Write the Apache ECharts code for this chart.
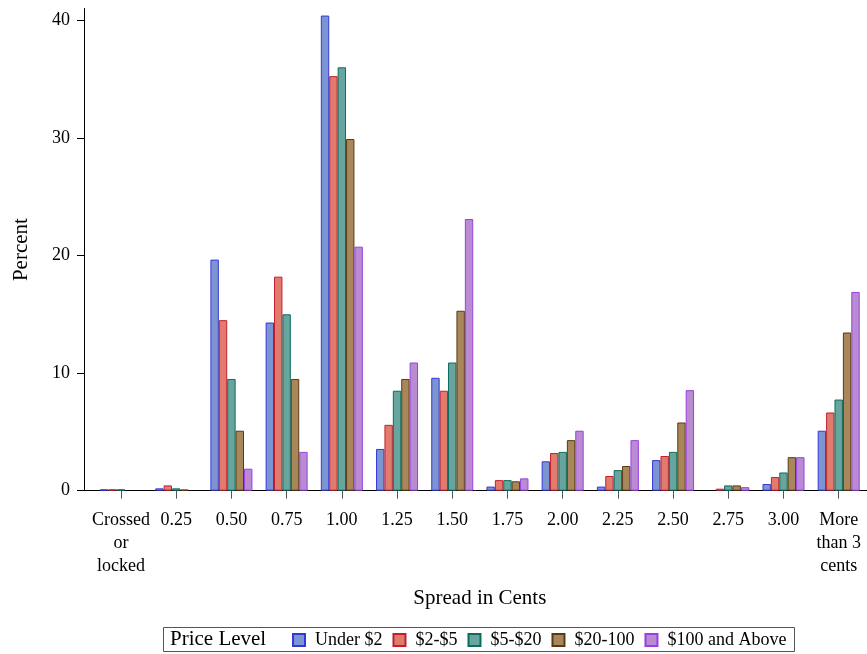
<!DOCTYPE html>
<html>
<head>
<meta charset="utf-8">
<script src="https://cdn.jsdelivr.net/npm/echarts@6/dist/echarts.min.js"></script>
<style>
  html, body { margin: 0; padding: 0; background: #fff; }
  #chart { width: 867px; height: 654px; }
</style>
</head>
<body>
<div id="chart"></div>
<script>
const categories = ['Crossed\nor\nlocked', '0.25', '0.50', '0.75', '1.00', '1.25', '1.50', '1.75', '2.00', '2.25', '2.50', '2.75', '3.00', 'More\nthan 3\ncents'];
const seriesNames = ['Under $2', '$2-$5', '$5-$20', '$20-100', '$100 and Above'];
const under2   = [0.12, 0.2, 19.65, 14.3, 40.4, 3.55, 9.6, 0.35, 2.5, 0.35, 2.6, 0, 0.57, 5.1];
const from2to5 = [0.12, 0.45, 14.5, 18.2, 35.25, 5.6, 8.5, 0.9, 3.2, 1.25, 2.95, 0.17, 1.16, 6.65];
const from5to20 = [0.12, 0.2, 9.5, 15.0, 36.0, 8.5, 10.9, 0.9, 3.3, 1.75, 3.3, 0.45, 1.55, 7.75];
const from20to100 = [0, 0.1, 5.1, 9.5, 29.9, 9.5, 15.3, 0.8, 4.3, 2.1, 5.8, 0.45, 2.85, 13.45];
const above100 = [0, 0, 1.87, 3.3, 20.75, 10.9, 23.1, 1.05, 5.1, 4.3, 8.55, 0.3, 2.85, 16.9];
const yTicks = [0, 10, 20, 30, 40];

const seriesData = [under2, from2to5, from5to20, from20to100, above100];
const fills = ['#7b94d2', '#e07b6e', '#67a69e', '#a8875b', '#b88bd3'];
const borders = ['#3636d9', '#c0202c', '#0e6b5e', '#5a3a12', '#9b3fe0'];
const serif = 'Liberation Serif, Times New Roman, serif';

const chart = echarts.init(document.getElementById('chart'));
const gridTop = 8.5, gridBottom = 163.3;

chart.setOption({
  animation: false,
  backgroundColor: '#fff',
  grid: [
    { left: 84, right: 0, top: gridTop, bottom: gridBottom },
    { left: 93.4, right: 0.7, top: gridTop, bottom: gridBottom }
  ],
  xAxis: [
    {
      type: 'value', gridIndex: 0, min: 0, max: 1,
      axisLine: { show: true, lineStyle: { color: '#000', width: 1 } },
      axisTick: { show: false }, axisLabel: { show: false }, splitLine: { show: false }
    },
    {
      type: 'category', gridIndex: 1, data: categories,
      axisLine: { show: false },
      axisTick: { show: true, alignWithLabel: true, length: 8, lineStyle: { color: '#555' } },
      axisLabel: { color: '#000', fontFamily: serif, fontSize: 18, lineHeight: 23, margin: 18, interval: 0 },
      name: 'Spread in Cents', nameLocation: 'middle', nameGap: 97,
      nameTextStyle: { color: '#000', fontFamily: serif, fontSize: 21 },
      splitLine: { show: false }
    }
  ],
  yAxis: [
    {
      type: 'value', gridIndex: 0, min: 0, max: 41,
      axisLine: { show: true, lineStyle: { color: '#000', width: 1 } },
      axisTick: { show: true, length: 7, customValues: yTicks, lineStyle: { color: '#000' } },
      axisLabel: { color: '#000', fontFamily: serif, fontSize: 18, margin: 14, customValues: yTicks },
      splitLine: { show: false },
      name: 'Percent', nameLocation: 'middle', nameGap: 52,
      nameTextStyle: { color: '#000', fontFamily: serif, fontSize: 21 }
    },
    {
      type: 'value', gridIndex: 1, min: 0, max: 41, show: false, splitLine: { show: false }
    }
  ],
  legend: {
    data: seriesNames,
    left: 292, top: 629, padding: 0,
    itemWidth: 12, itemHeight: 12, itemGap: 10,
    icon: 'rect',
    textStyle: { color: '#000', fontFamily: serif, fontSize: 18, lineHeight: 22, padding: [0, 0, 0, 5] }
  },
  graphic: [
    { type: 'rect', shape: { x: 163.5, y: 627.5, width: 631, height: 24 },
      style: { fill: 'none', stroke: '#555', lineWidth: 1 } },
    { type: 'text', left: 170, top: 629,
      style: { text: 'Price Level', fill: '#000', font: '21px ' + serif } }
  ],
  series: seriesNames.map((name, i) => ({
    name: name, type: 'bar', xAxisIndex: 1, yAxisIndex: 1,
    data: seriesData[i].map(v => (v === 0 ? '-' : v)),
    barWidth: 8.4, barGap: '0%',
    itemStyle: { color: fills[i], borderColor: borders[i], borderWidth: 1 }
  }))
});
</script>
</body>
</html>
